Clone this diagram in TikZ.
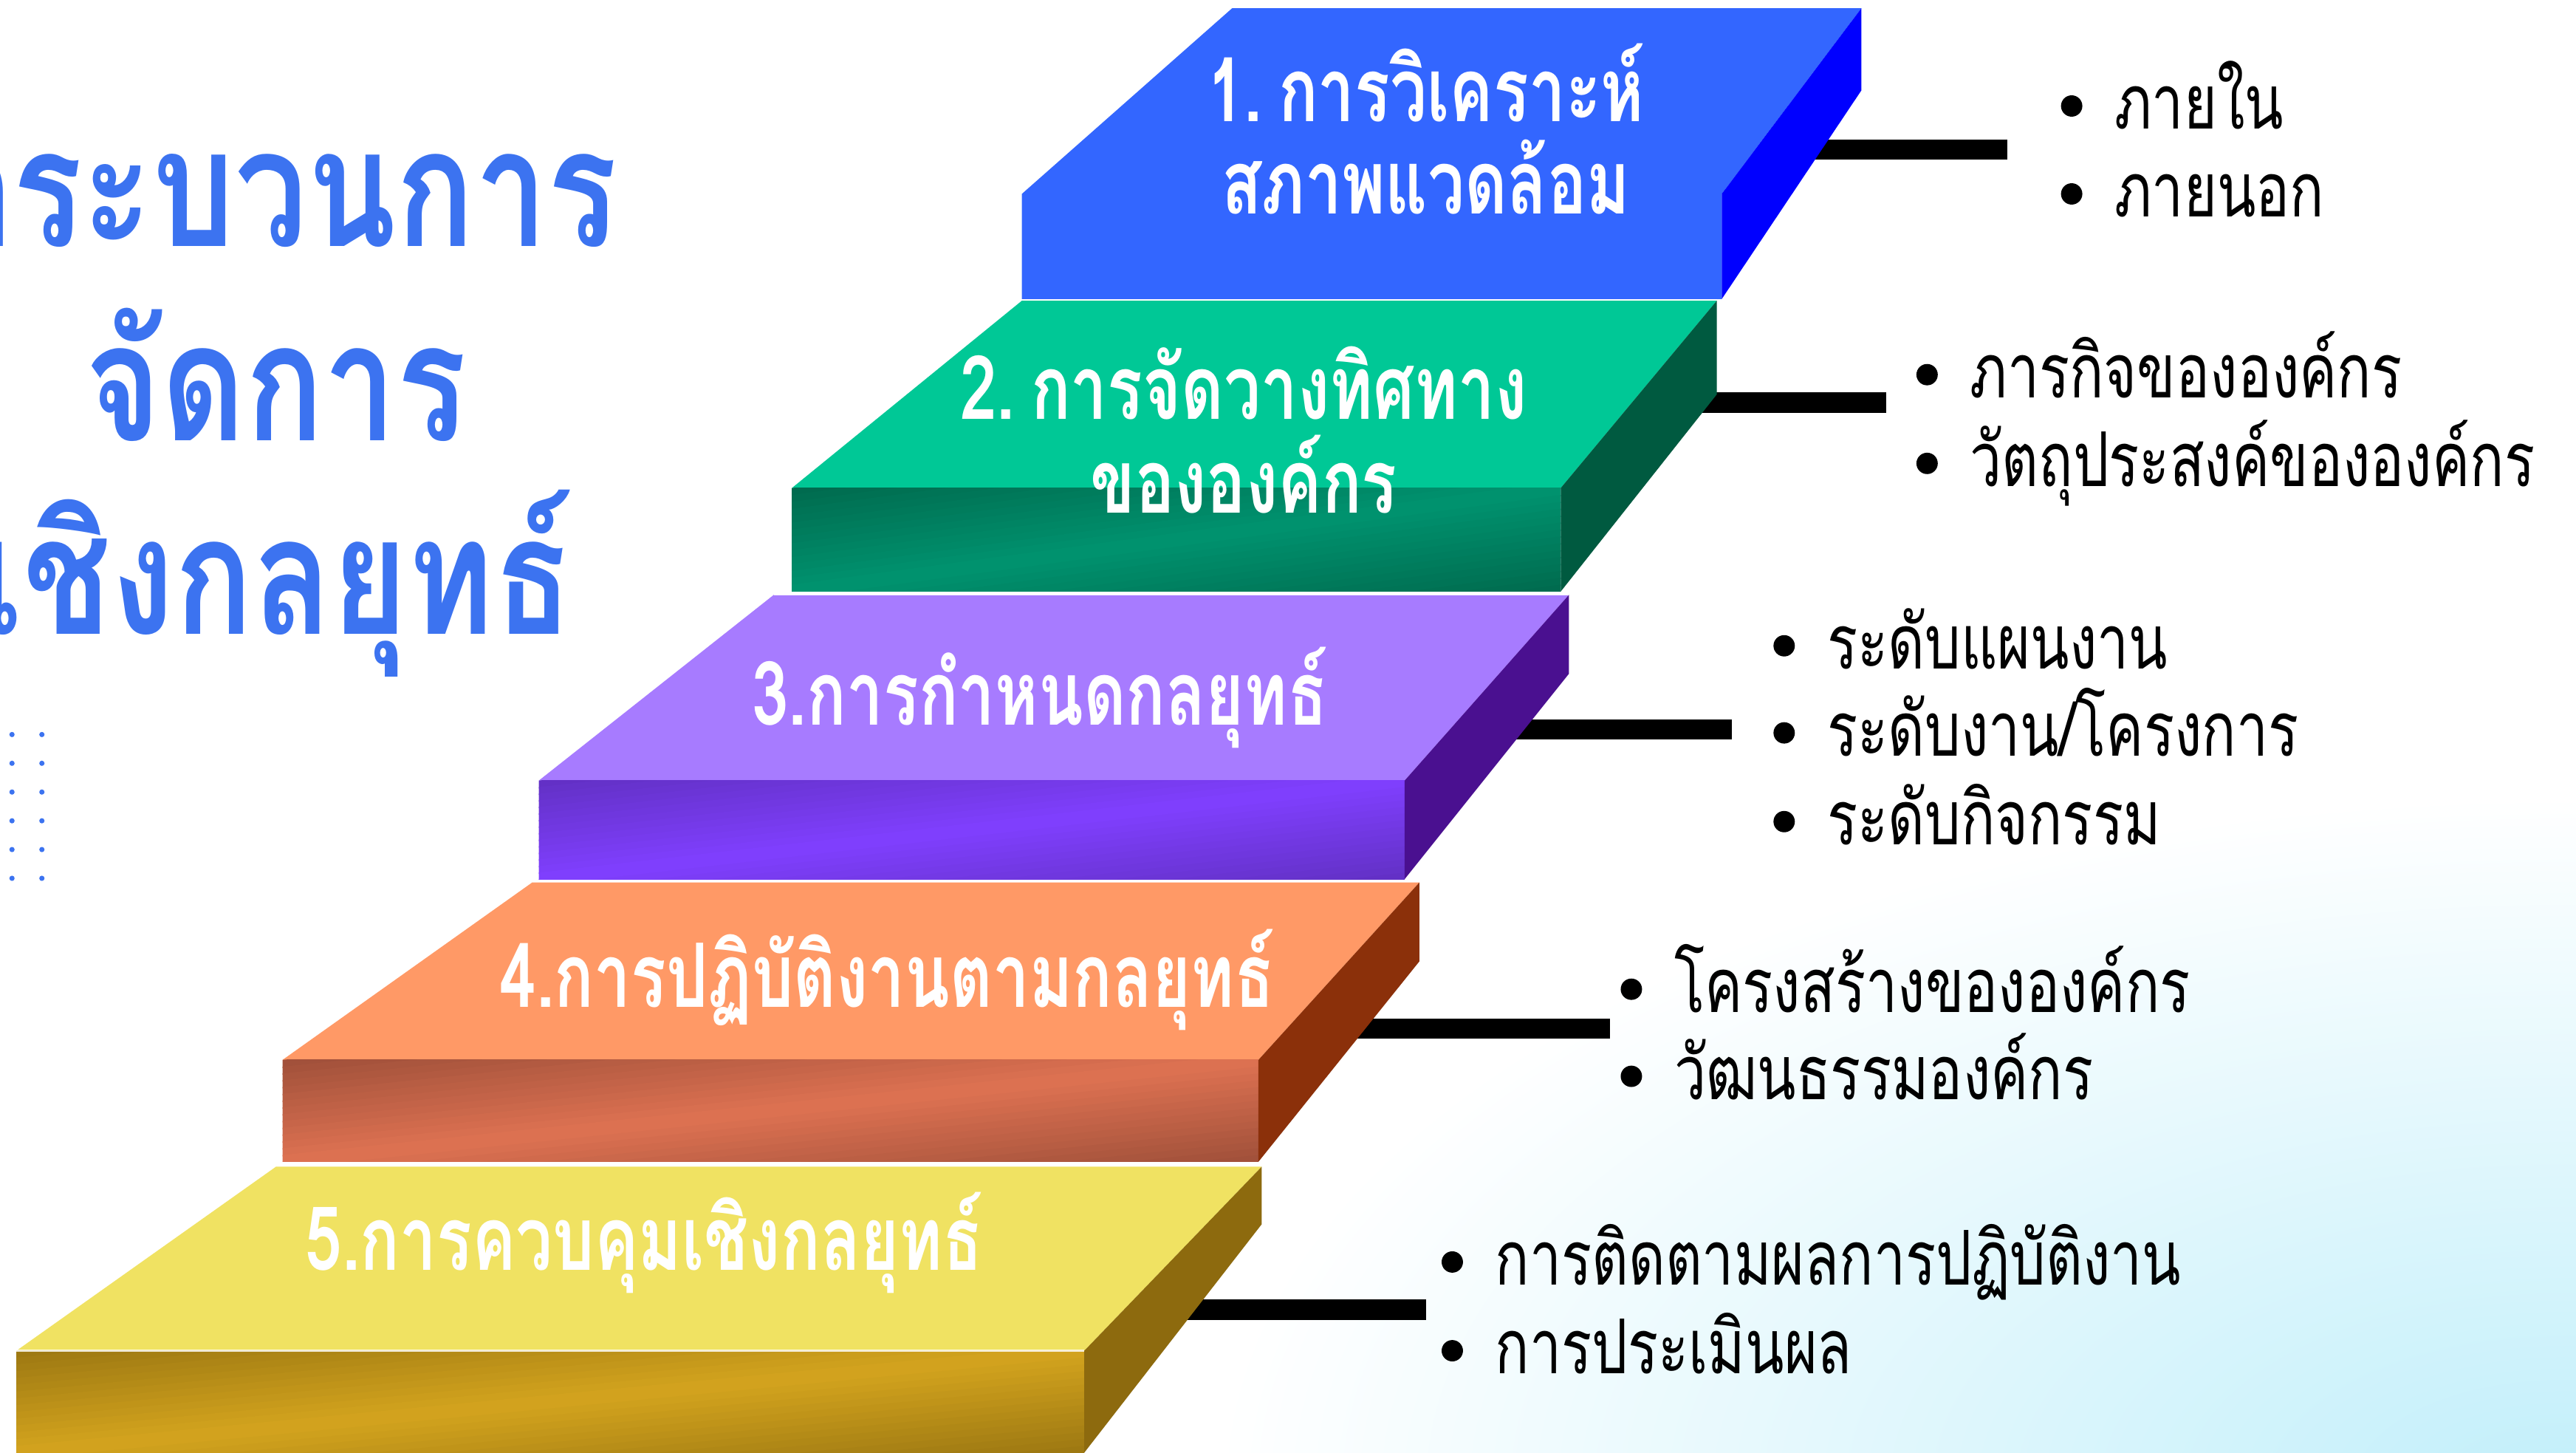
\documentclass[tikz,border=0pt]{standalone}
\usepackage{fontspec}
\newfontfamily\thaititle[Script=Thai,FakeStretch=0.79]{Loma}
\newfontfamily\thaib[Script=Thai,FakeStretch=0.74]{Loma}
\newfontfamily\thaic[Script=Thai,FakeStretch=0.75]{Loma}
\definecolor{titleblue}{HTML}{3C73F0}
\definecolor{bTop}{HTML}{3366FF}
\definecolor{bSide}{HTML}{0000FF}
\definecolor{gTop}{HTML}{00C896}
\definecolor{gFrontL}{HTML}{00936F}
\definecolor{gFrontD}{HTML}{006A4E}
\definecolor{gSide}{HTML}{005A40}
\definecolor{pTop}{HTML}{A77BFF}
\definecolor{pFrontL}{HTML}{8040FF}
\definecolor{pFrontD}{HTML}{6230C4}
\definecolor{pSide}{HTML}{4A1090}
\definecolor{oTop}{HTML}{FF9966}
\definecolor{oFrontL}{HTML}{DE7252}
\definecolor{oFrontD}{HTML}{A0503A}
\definecolor{oSide}{HTML}{8B300A}
\definecolor{yTop}{HTML}{F0E262}
\definecolor{yFrontL}{HTML}{D4A41E}
\definecolor{yFrontD}{HTML}{9C7812}
\definecolor{ySide}{HTML}{8D6A0E}
\definecolor{bgcyan}{HTML}{C2EFFA}
% diagonal gradient front face: left x, top y, right x, bottom y, dark, light
\newcommand{\frontface}[6]{%
  \begin{scope}
    \clip (#1,#2) rectangle (#3,#4);
    \pgfmathsetmacro{\ffh}{#4-#2}
    \foreach \k in {0,...,29}{
      \pgfmathsetmacro{\ffa}{\k*2*\ffh/30}
      \pgfmathsetmacro{\ffb}{(\k+1)*2*\ffh/30+0.8}
      \pgfmathsetmacro{\ffc}{abs(2*(\k+0.5)/30-1)*100}
      \fill[#5!\ffc!#6] (#1,#2+\ffa) -- (#3,#2+\ffa-\ffh) -- (#3,#2+\ffb-\ffh) -- (#1,#2+\ffb) -- cycle;
    }
  \end{scope}}
\begin{document}
\begin{tikzpicture}[x=1pt,y=-1pt,
  titletext/.style={font=\thaititle\bfseries\fontsize{100}{100}\selectfont, text=titleblue, inner sep=0pt, anchor=base},
  steplabel/.style={font=\thaib\bfseries\fontsize{54}{56}\selectfont, text=white, inner sep=0pt, anchor=base},
  itemtext/.style={font=\thaic\fontsize{46}{46}\selectfont, text=black, inner sep=0pt, anchor=base west},
  bar/.style={line width=12.4pt, black},
  seam/.style={white, line width=1.2pt, opacity=0.8},
  griddot/.style={fill=titleblue}
]
\useasboundingbox (0,0) rectangle (1568,884);
% background glow
\begin{scope}
  \clip (0,0) rectangle (1568,884);
  \fill[white] (0,0) rectangle (1568,884);
  \shade[inner color=bgcyan, outer color=white] (1560,905) ellipse [x radius=820, y radius=420];
\end{scope}
% dot grid
\foreach \r in {0,...,5} {
  \fill[griddot] (7.3,447+17.5*\r) circle (1.6);
  \fill[griddot] (25.5,447+17.5*\r) circle (1.6);
}
% title
\node[titletext] (title1) at (168,150) {กระบวนการ};
\node[titletext] (title2) at (168,268) {จัดการ};
\node[titletext] (title3) at (168,386) {เชิงกลยุทธ์};

% connector coordinates
\coordinate (s1) at (1095,91);  \coordinate (e1) at (1222,91);
\coordinate (s2) at (1025,245); \coordinate (e2) at (1148,245);
\coordinate (s3) at (920,444);  \coordinate (e3) at (1054,444);
\coordinate (s4) at (815,626);  \coordinate (e4) at (980,626);
\coordinate (s5) at (720,797);  \coordinate (e5) at (868,797);
\draw[bar] (s1) -- (e1);
\draw[bar] (s2) -- (e2);
\draw[bar] (s3) -- (e3);
\draw[bar] (s4) -- (e4);
\draw[bar] (s5) -- (e5);

% step 5 (yellow)
\fill[yTop] (168,710) -- (768,710) -- (660,822) -- (10,822) -- cycle;
\frontface{10}{822}{660}{884}{yFrontD}{yFrontL}
\fill[ySide] (660,822) -- (768,710) -- (768,745) -- (660,884) -- cycle;
\draw[seam] (10,822) -- (660,822);
% step 4 (orange)
\fill[oTop] (324,537) -- (864,537) -- (766,645) -- (172,645) -- cycle;
\frontface{172}{645}{766}{707}{oFrontD}{oFrontL}
\fill[oSide] (766,645) -- (864,537) -- (864,585) -- (766,707) -- cycle;
\draw[seam] (168,709) -- (768,709);
% step 3 (purple)
\fill[pTop] (471,362) -- (955,362) -- (855,475) -- (328,475) -- cycle;
\frontface{328}{475}{855}{535}{pFrontD}{pFrontL}
\fill[pSide] (855,475) -- (955,362) -- (955,410) -- (855,535) -- cycle;
\draw[seam] (324,536) -- (864,536);
% step 2 (green)
\fill[gTop] (622,183) -- (1045,183) -- (950,297) -- (482,297) -- cycle;
\frontface{482}{297}{950}{360}{gFrontD}{gFrontL}
\fill[gSide] (950,297) -- (1045,183) -- (1045,240) -- (950,360) -- cycle;
\draw[seam] (471,361.5) -- (955,361.5);
% step 1 (blue)
\fill[bTop] (750,5) -- (1133,5) -- (1048,118) -- (1048,182) -- (622,182) -- (622,118) -- cycle;
\fill[bSide] (1048,118) -- (1133,5) -- (1133,55) -- (1048,182) -- cycle;
\draw[seam] (622,182.5) -- (1045,182.5);

% step labels
\node[steplabel] (lab1a) at (868,74) {1.\hspace{0.18em}การวิเคราะห์};
\node[steplabel] (lab1b) at (868,130) {สภาพแวดล้อม};
\node[steplabel] (lab2a) at (757,255) {2.\hspace{0.18em}การจัดวางทิศทาง};
\node[steplabel] (lab2b) at (757,312) {ขององค์กร};
\node[steplabel] (lab3) at (633,441) {3.การกำหนดกลยุทธ์};
\node[steplabel] (lab4) at (540,613) {4.การปฏิบัติงานตามกลยุทธ์};
\node[steplabel] (lab5) at (392,773) {5.การควบคุมเชิงกลยุทธ์};

% bullet items
\newcommand{\bitem}[4]{%
  \fill[black] (#1,#2) circle (6.5);
  \node[itemtext] (#4) at (#1+26,#2+14) {#3};}
\bitem{1261}{64.5}{ภายใน}{i11}
\bitem{1261}{118}{ภายนอก}{i12}
\bitem{1173}{228}{ภารกิจขององค์กร}{i21}
\bitem{1173}{282}{วัตถุประสงค์ขององค์กร}{i22}
\bitem{1086}{393}{ระดับแผนงาน}{i31}
\bitem{1086}{446}{ระดับงาน/โครงการ}{i32}
\bitem{1086}{500}{ระดับกิจกรรม}{i33}
\bitem{993}{602}{โครงสร้างขององค์กร}{i41}
\bitem{993}{655}{วัฒนธรรมองค์กร}{i42}
\bitem{884}{768}{การติดตามผลการปฏิบัติงาน}{i51}
\bitem{884}{822}{การประเมินผล}{i52}
\end{tikzpicture}
\end{document}
